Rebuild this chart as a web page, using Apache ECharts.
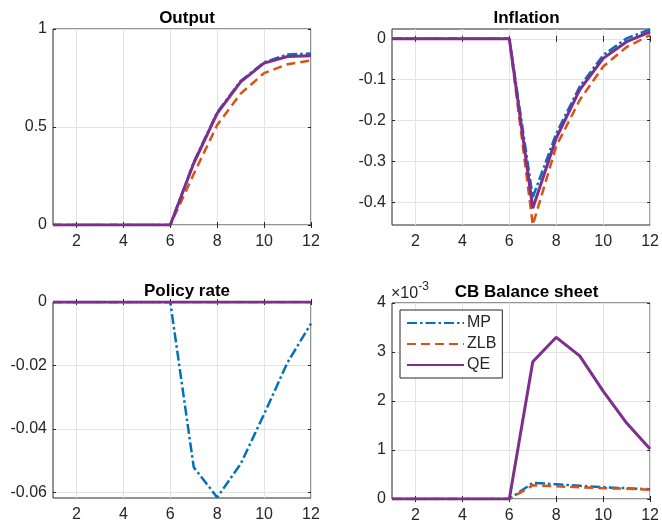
<!DOCTYPE html>
<html>
<head>
<meta charset="utf-8">
<script src="https://cdn.jsdelivr.net/npm/echarts@6/dist/echarts.min.js"></script>
<style>
  html, body { margin: 0; padding: 0; background: #fff; }
  #chart { width: 662px; height: 524px; }
</style>
</head>
<body>
<div id="chart"></div>
<script>
var periods = [1, 2, 3, 4, 5, 6, 7, 8, 9, 10, 11, 12];
var xTicks = [2, 4, 6, 8, 10, 12];

var outputMP  = [0, 0, 0, 0, 0, 0, 0.32, 0.575, 0.735, 0.83, 0.87, 0.875];
var outputZLB = [0, 0, 0, 0, 0, 0, 0.26, 0.51, 0.67, 0.775, 0.82, 0.84];
var outputQE  = [0, 0, 0, 0, 0, 0, 0.315, 0.57, 0.73, 0.826, 0.86, 0.864];

var inflMP  = [0, 0, 0, 0, 0, 0, -0.388, -0.232, -0.117, -0.04, 0.001, 0.023];
var inflZLB = [0, 0, 0, 0, 0, 0, -0.456, -0.263, -0.15, -0.068, -0.02, 0.009];
var inflQE  = [0, 0, 0, 0, 0, 0, -0.415, -0.243, -0.125, -0.048, -0.007, 0.017];

var rateMP  = [0, 0, 0, 0, 0, 0, -0.052, -0.0615, -0.051, -0.0353, -0.019, -0.0068];
var rateZLB = [0, 0, 0, 0, 0, 0, 0, 0, 0, 0, 0, 0];
var rateQE  = [0, 0, 0, 0, 0, 0, 0, 0, 0, 0, 0, 0];

var bsMP  = [0, 0, 0, 0, 0, 0, 0.00033, 0.0003, 0.00027, 0.00024, 0.00022, 0.0002];
var bsZLB = [0, 0, 0, 0, 0, 0, 0.00028, 0.00026, 0.00024, 0.00022, 0.00021, 0.00019];
var bsQE  = [0, 0, 0, 0, 0, 0, 0.0028, 0.0033, 0.00292, 0.0022, 0.00155, 0.00102];

var panels = [
    { title: 'Output', left: 53, top: 29, width: 258, height: 196,
      yMin: 0, yMax: 1, yTicks: [0, 0.5, 1], scale: 1,
      data: [outputMP, outputZLB, outputQE] },
    { title: 'Inflation', left: 392, top: 29, width: 259, height: 196,
      yMin: -0.456, yMax: 0.024, yTicks: [-0.4, -0.3, -0.2, -0.1, 0], scale: 1,
      data: [inflMP, inflZLB, inflQE] },
    { title: 'Policy rate', left: 53, top: 302, width: 258, height: 196,
      yMin: -0.0617, yMax: 0, yTicks: [-0.06, -0.04, -0.02, 0], scale: 1,
      data: [rateMP, rateZLB, rateQE] },
    { title: 'CB Balance sheet', left: 392, top: 303, width: 259, height: 196,
      yMin: 0, yMax: 0.004, yTicks: [0, 0.001, 0.002, 0.003, 0.004], scale: 1000,
      data: [bsMP, bsZLB, bsQE] }
];

var names = ['MP', 'ZLB', 'QE'];
var colors = ['#0072BD', '#D95319', '#7E2F8E'];
var dashes = [[10, 3, 2.5, 3], [9, 5], 'solid'];
var widths = [2.5, 2.5, 3];

var textColor = '#262626';
var font = 'Liberation Sans';

var chart = echarts.init(document.getElementById('chart'));

var grids = [], xAxes = [], yAxes = [], series = [], titles = [];

panels.forEach(function (p, i) {
    grids.push({
        left: p.left, top: p.top, width: p.width, height: p.height,
        show: true, borderColor: textColor, borderWidth: 1, backgroundColor: '#fff'
    });
    titles.push({
        text: p.title,
        left: p.left + p.width / 2, top: p.top - 24, textAlign: 'center',
        textStyle: { fontFamily: font, fontSize: 17, fontWeight: 'bold', color: '#000' }
    });
    // bottom x axis
    xAxes.push({
        type: 'value', gridIndex: i, min: 1, max: 12,
        axisLine: { show: false },
        axisTick: { show: true, inside: true, length: 3, customValues: xTicks,
                    lineStyle: { color: textColor } },
        axisLabel: { customValues: xTicks, margin: 9, color: textColor,
                     fontFamily: font, fontSize: 16 },
        splitLine: { show: true, lineStyle: { color: '#e3e3e3', width: 1 } }
    });
    // top x axis (ticks only)
    xAxes.push({
        type: 'value', gridIndex: i, min: 1, max: 12, position: 'top',
        axisLine: { show: false },
        axisTick: { show: true, inside: true, length: 3, customValues: xTicks,
                    lineStyle: { color: textColor } },
        axisLabel: { show: false },
        splitLine: { show: false }
    });
    var fmt = (function (s) {
        return function (v) { return String(+(v * s).toFixed(4)); };
    })(p.scale);
    yAxes.push({
        type: 'value', gridIndex: i, min: p.yMin, max: p.yMax,
        axisLine: { show: false },
        axisTick: { show: true, inside: true, length: 3, customValues: p.yTicks,
                    lineStyle: { color: textColor } },
        axisLabel: { customValues: p.yTicks, margin: 6, color: textColor,
                     fontFamily: font, fontSize: 16, formatter: fmt },
        splitLine: { show: true, lineStyle: { color: '#e3e3e3', width: 1 } }
    });
    yAxes.push({
        type: 'value', gridIndex: i, min: p.yMin, max: p.yMax, position: 'right',
        axisLine: { show: false },
        axisTick: { show: true, inside: true, length: 3, customValues: p.yTicks,
                    lineStyle: { color: textColor } },
        axisLabel: { show: false },
        splitLine: { show: false }
    });
    p.data.forEach(function (vals, k) {
        series.push({
            name: names[k], type: 'line',
            xAxisIndex: i * 2, yAxisIndex: i * 2,
            data: periods.map(function (t, j) { return [t, vals[j]]; }),
            symbol: 'none', silent: true, animation: false,
            lineStyle: { color: colors[k], width: widths[k], type: dashes[k] },
            itemStyle: { color: colors[k] }
        });
    });
});

var option = {
    backgroundColor: '#fff',
    animation: false,
    title: titles,
    grid: grids,
    xAxis: xAxes,
    yAxis: yAxes,
    legend: {
        data: names,
        orient: 'vertical',
        left: 400, top: 310,
        itemWidth: 57, itemHeight: 12, itemGap: 5,
        padding: [5, 6, 5, 6],
        borderColor: textColor, borderWidth: 1, borderRadius: 0,
        backgroundColor: '#fff',
        selectedMode: false,
        itemStyle: { opacity: 0 },
        textStyle: { fontFamily: font, fontSize: 16, color: textColor, padding: [0, 0, 0, -2] }
    },
    graphic: [{
        type: 'text', left: 391, top: 281,
        style: {
            text: '{a|×10}{b|-3}',
            rich: {
                a: { fontFamily: font, fontSize: 16, fill: textColor, verticalAlign: 'bottom' },
                b: { fontFamily: font, fontSize: 12, fill: textColor, verticalAlign: 'top', padding: [0, 0, 9, 0] }
            }
        }
    }],
    series: series
};

chart.setOption(option);
</script>
</body>
</html>
